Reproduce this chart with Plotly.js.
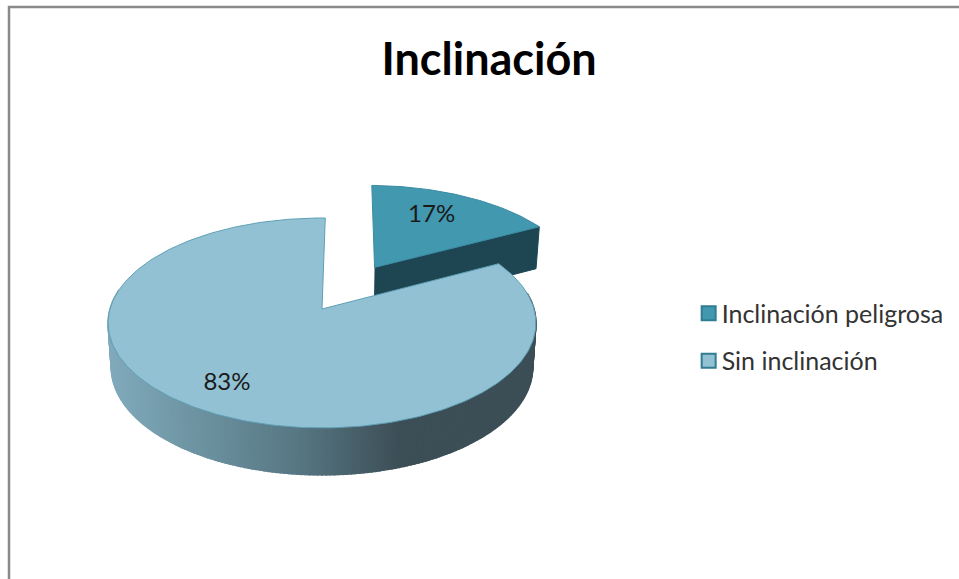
<!DOCTYPE html>
<html>
<head>
<meta charset="utf-8">
<script src="https://cdn.plot.ly/plotly-3.0.1.min.js"></script>
<style>html,body{margin:0;padding:0;background:#fff;overflow:hidden}#chart{width:959px;height:579px}</style>
</head>
<body>
<div id="chart"></div>
<script>
// Data
var chartTitle = 'Inclinación';
var categories = ['Inclinación peligrosa', 'Sin inclinación'];
var shares = [17, 83];
var sliceColors = ['#4198AF', '#92C1D4'];
var explodeFractions = [0.5, 0];
var labelRadii = [0.68, 0.78];
var labelTurns = [-3, 0];

// Projection of the tilted pie onto the axes' coordinates
var cx = 322, cy = 309, ax = 212, ay = 103.1, persp = 0.133;
var floorDrop = 44, floorScaleX = 0.985, floorScaleY = 1.025;
var rotation = 1;

function project(u, v, floor) {
  var w = 1 + persp * v;
  return floor
    ? [cx + floorScaleX * ax * u / w, cy + floorDrop - floorScaleY * ay * v / w]
    : [cx + ax * u / w, cy - ay * v / w];
}
var total = shares.reduce(function (a, b) { return a + b; }, 0);
var startAngle = [0, 360 * shares[0] / total];
var endAngle = [360 * shares[0] / total, 360];

function rad(d) { return (d + rotation) * Math.PI / 180; }
function offset(i) {
  var mid = rad((startAngle[i] + endAngle[i]) / 2);
  return [explodeFractions[i] * Math.sin(mid), explodeFractions[i] * Math.cos(mid)];
}
function rim(i, deg, floor) {
  var o = offset(i);
  return project(o[0] + Math.sin(rad(deg)), o[1] + Math.cos(rad(deg)), floor);
}
function centre(i, floor) { var o = offset(i); return project(o[0], o[1], floor); }

function poly(points, fill, lineColor, lineWidth) {
  return {
    type: 'scatter', mode: 'lines', fill: 'toself', fillcolor: fill,
    x: points.map(function (p) { return p[0]; }),
    y: points.map(function (p) { return p[1]; }),
    line: { color: lineColor, width: lineWidth },
    hoverinfo: 'skip', showlegend: false
  };
}
function face(i) {
  var pts = [centre(i, false)];
  for (var d = startAngle[i]; d < endAngle[i]; d += 1) pts.push(rim(i, d, false));
  pts.push(rim(i, endAngle[i], false));
  pts.push(centre(i, false));
  return pts;
}

// Side wall shade, by horizontal position
var shadeX = [100, 200, 300, 400, 540];
var shadeR = [130, 108, 86, 60, 60];
var shadeG = [172, 146, 118, 78, 78];
var shadeB = [190, 160, 130, 86, 86];
function shade(x) {
  for (var k = 0; k < shadeX.length - 1; k++) {
    if (x <= shadeX[k + 1]) {
      var t = Math.max(0, (x - shadeX[k]) / (shadeX[k + 1] - shadeX[k]));
      return 'rgb(' + [shadeR, shadeG, shadeB].map(function (c) {
        return Math.round(c[k] + t * (c[k + 1] - c[k]));
      }).join(',') + ')';
    }
  }
  return 'rgb(60,78,86)';
}

var traces = [];
// Exploded slice: cut wall, then face
var cutDeg = endAngle[0];
traces.push(poly([centre(0, false), rim(0, cutDeg, false), rim(0, cutDeg, true), centre(0, true)],
  '#1E4652', '#1E4652', 1));
traces.push(poly(face(0), sliceColors[0], '#3B8CA3', 1));
// Main slice: wall, then face
for (var d = 80; d < 280; d += 1) {
  var a = rim(1, d, false), b = rim(1, d + 1, false), c = rim(1, d + 1, true), e = rim(1, d, true);
  var col = shade((a[0] + b[0]) / 2);
  traces.push(poly([a, b, c, e, a], col, col, 1.5));
}
traces.push(poly(face(1), sliceColors[1], '#5FA0B5', 1));

// Percentage labels
function labelPoint(i) {
  var o = offset(i), m = rad((startAngle[i] + endAngle[i]) / 2 + labelTurns[i]);
  return project(o[0] + labelRadii[i] * Math.sin(m), o[1] + labelRadii[i] * Math.cos(m), false);
}
traces.push({
  type: 'scatter', mode: 'text',
  x: shares.map(function (s, i) { return labelPoint(i)[0]; }),
  y: shares.map(function (s, i) { return labelPoint(i)[1]; }),
  text: shares.map(function (s) { return s + '%'; }),
  textposition: 'middle center',
  textfont: { family: 'Lato, sans-serif', size: 24, color: '#1a1a1a' },
  hoverinfo: 'skip', showlegend: false
});

// Legend entries
categories.forEach(function (name, i) {
  traces.push({
    type: 'scatter', mode: 'markers', name: name, legendgroup: name,
    x: [null], y: [null],
    marker: { symbol: 'square', size: 14, color: sliceColors[i], line: { color: '#2F7C93', width: 2 } }
  });
});

var layout = {
  width: 959, height: 579,
  margin: { l: 0, r: 0, t: 0, b: 0 },
  paper_bgcolor: '#ffffff', plot_bgcolor: '#ffffff',
  title: {
    text: '<b>' + chartTitle + '</b>',
    x: 0.51, xanchor: 'center', xref: 'paper',
    y: 0.897, yanchor: 'middle', yref: 'paper',
    font: { family: 'Lato, sans-serif', size: 45, color: '#000000' }
  },
  xaxis: { range: [0, 959], visible: false, fixedrange: true },
  yaxis: { range: [579, 0], visible: false, fixedrange: true },
  legend: {
    x: 0.7108, xanchor: 'left', y: 0.418, yanchor: 'middle',
    font: { family: 'Lato, sans-serif', size: 25, color: '#333333' },
    tracegroupgap: 12, itemwidth: 30, bgcolor: 'rgba(0,0,0,0)'
  },
  shapes: [{
    type: 'path', path: 'M 9 579 L 9 7 L 959 7',
    line: { color: '#8A8A8A', width: 2.5 }, layer: 'below'
  }],
  showlegend: true
};
Plotly.newPlot('chart', traces, layout, { displayModeBar: false, staticPlot: true }).then(function () {
  document.querySelectorAll('.legend .legendpoints').forEach(function (g) {
    g.setAttribute('transform', 'translate(7,0)');
  });
});
</script>
</body>
</html>
